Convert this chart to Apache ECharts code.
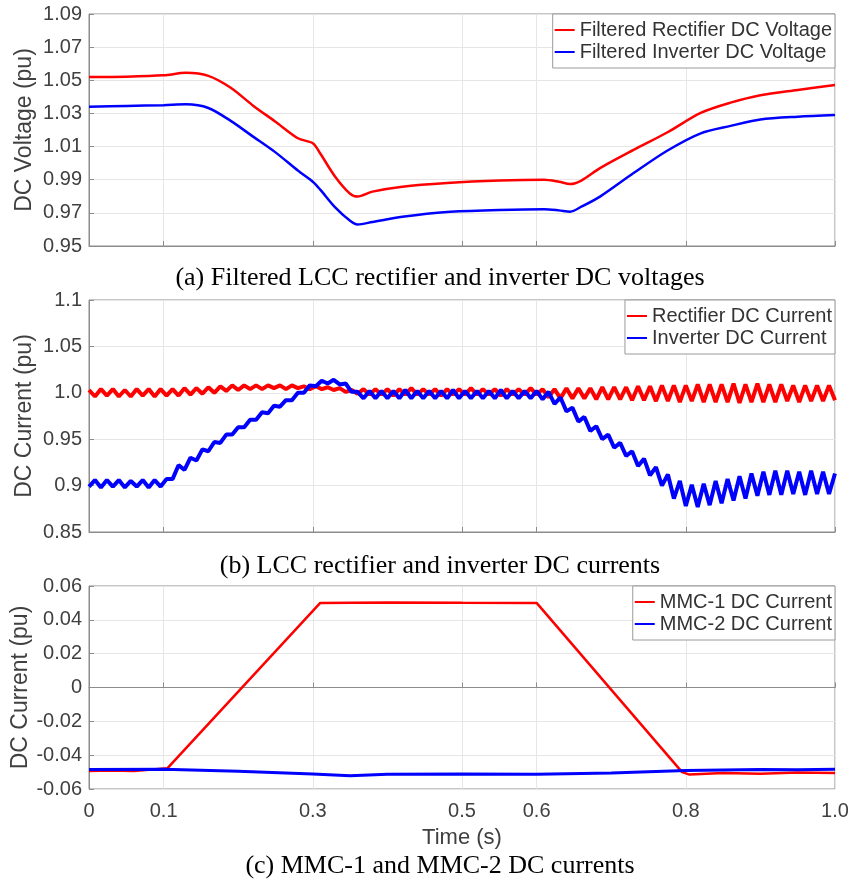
<!DOCTYPE html>
<html>
<head>
<meta charset="utf-8">
<script src="https://cdn.jsdelivr.net/npm/echarts@6/dist/echarts.min.js"></script>
<style>html,body{margin:0;padding:0;background:#fff}#chart{width:848px;height:886px}</style>
</head>
<body>
<div id="chart"></div>
<script>
// shared time axis ticks
const xTicks = [0, 0.1, 0.3, 0.5, 0.6, 0.8, 1.0]
const xTickLabels = ['0', '0.1', '0.3', '0.5', '0.6', '0.8', '1.0']

// (a) filtered DC voltages
const yTicksA = [0.95, 0.97, 0.99, 1.01, 1.03, 1.05, 1.07, 1.09]
const yLabelsA = ['0.95', '0.97', '0.99', '1.01', '1.03', '1.05', '1.07', '1.09']
const tA = [0, 0.05, 0.1, 0.13, 0.16, 0.19, 0.22, 0.25, 0.28, 0.30, 0.31, 0.33, 0.35, 0.36, 0.38, 0.42, 0.48, 0.55, 0.61, 0.63, 0.645, 0.66, 0.685, 0.73, 0.775, 0.82, 0.86, 0.9, 0.95, 1.0]
const rectVoltA = [1.0520, 1.0522, 1.0530, 1.0545, 1.0527, 1.0455, 1.0347, 1.0250, 1.0150, 1.0120, 1.0058, 0.9918, 0.9815, 0.9798, 0.9828, 0.9858, 0.9880, 0.9895, 0.9900, 0.9888, 0.9874, 0.9895, 0.9970, 1.0080, 1.0185, 1.0303, 1.0365, 1.0410, 1.0442, 1.0472]
const invVoltA = [1.0340, 1.0345, 1.0350, 1.0355, 1.0333, 1.0255, 1.0160, 1.0065, 0.9955, 0.9888, 0.9840, 0.9733, 0.9652, 0.9630, 0.9645, 0.9676, 0.9705, 0.9717, 0.9722, 0.9715, 0.9707, 0.9737, 0.9798, 0.9940, 1.0075, 1.0180, 1.0225, 1.0263, 1.0280, 1.0290]

// (b) DC currents, sampled every 8 ms (peaks / troughs of the ripple)
const yTicksB = [0.85, 0.9, 0.95, 1.0, 1.05, 1.1]
const yLabelsB = ['0.85', '0.9', '0.95', '1.0', '1.05', '1.1']
const sampleStepB = 0.008
const rectCurB = [
  1.003, 0.996, 1.004, 0.997, 1.004, 0.996, 1.003, 0.996, 1.004, 0.997, 1.004, 0.996, 1.004, 0.997, 1.004, 0.997, 1.005, 0.998,
  1.005, 0.999, 1.006, 1.000, 1.007, 1.002, 1.008, 1.003,
  1.008, 1.004, 1.008, 1.004, 1.008, 1.005, 1.008, 1.004, 1.008, 1.005, 1.007, 1.004, 1.007, 1.004,
  1.006, 1.003, 1.005, 1.001, 1.003, 0.999,
  1.004, 0.998, 1.004, 0.998, 1.004, 0.997, 1.004, 0.998, 1.005, 0.998, 1.004, 0.998, 1.004, 0.997, 1.004, 0.998,
  1.004, 0.998, 1.005, 0.998, 1.004, 0.998, 1.004, 0.997, 1.004, 0.998, 1.004, 0.998, 1.005, 0.998,
  1.004, 0.995, 1.004, 0.994, 1.005, 0.994, 1.005, 0.994, 1.005, 0.993, 1.006, 0.993, 1.006, 0.993, 1.006, 0.992, 1.007, 0.992,
  1.007, 0.991, 1.008, 0.991, 1.008, 0.990, 1.008, 0.991, 1.009, 0.990, 1.009, 0.990, 1.009, 0.990, 1.010, 0.989,
  1.009, 0.990, 1.010, 0.990, 1.009, 0.990, 1.009, 0.991, 1.008, 0.990, 1.008, 0.991, 1.008, 0.991, 1.008, 0.992
]
const invCurB = [
  0.899, 0.906, 0.898, 0.906, 0.899, 0.906, 0.898, 0.905, 0.899, 0.906, 0.898, 0.906, 0.899, 0.907,
  0.907, 0.922, 0.917, 0.930, 0.927, 0.939, 0.937, 0.947, 0.946, 0.955, 0.955, 0.963, 0.963, 0.971, 0.971, 0.979,
  0.978, 0.986, 0.985, 0.992, 0.992, 1.000, 1.000, 1.008, 1.007, 1.013, 1.010, 1.014, 1.009, 1.010, 1.001, 1.001,
  0.994, 1.002, 0.994, 1.002, 0.994, 1.002, 0.994, 1.003, 0.994, 1.002, 0.994, 1.002, 0.994, 1.002, 0.994, 1.003,
  0.994, 1.002, 0.994, 1.002, 0.994, 1.002, 0.994, 1.003, 0.994, 1.002, 0.994, 1.002, 0.994, 1.002, 0.993,
  1.001, 0.988, 0.995, 0.980, 0.984, 0.969, 0.974, 0.959, 0.964, 0.950, 0.955, 0.941, 0.946, 0.932, 0.937, 0.921,
  0.929, 0.911, 0.920, 0.900, 0.912, 0.886, 0.905, 0.878, 0.901, 0.877, 0.902, 0.879, 0.905, 0.881, 0.907, 0.884,
  0.910, 0.886, 0.913, 0.889, 0.915, 0.890, 0.916, 0.890, 0.916, 0.891, 0.915, 0.890, 0.916, 0.891, 0.915, 0.891, 0.913
]

// (c) MMC DC currents
const yTicksC = [-0.06, -0.04, -0.02, 0, 0.02, 0.04, 0.06]
const yLabelsC = ['-0.06', '-0.04', '-0.02', '0', '0.02', '0.04', '0.06']
const tMmc1 = [0, 0.03, 0.06, 0.105, 0.31, 0.4, 0.5, 0.6, 0.795, 0.805, 0.85, 0.9, 0.95, 1.0]
const mmc1Cur = [-0.0493, -0.0491, -0.0494, -0.0478, 0.0500, 0.0503, 0.0501, 0.0500, -0.0500, -0.0515, -0.0505, -0.0510, -0.0503, -0.0505]
const tMmc2 = [0, 0.1, 0.2, 0.3, 0.35, 0.4, 0.5, 0.6, 0.7, 0.8, 0.85, 0.9, 0.95, 1.0]
const mmc2Cur = [-0.0485, -0.0483, -0.0495, -0.0512, -0.0522, -0.0513, -0.0512, -0.0513, -0.0505, -0.0490, -0.0487, -0.0484, -0.0486, -0.0483]

const RED = '#ff0000'
const BLUE = '#0000ff'
const TXT = '#404040'
const SANS = 'Liberation Sans'

const pairs = (ts, vs) => vs.map((v, i) => [ts[i], v])
const sampled = (step, vs) => vs.map((v, i) => [i * step, v])
const labelFor = (ticks, labels) => v => {
  let best = 0
  ticks.forEach((t, i) => { if (Math.abs(t - v) < Math.abs(ticks[best] - v)) best = i })
  return labels[best]
}

const gridTops = [14, 300, 586]
const gridHeights = [232, 232, 203]

const xAxisFor = (idx) => ({
  gridIndex: idx, type: 'value', min: 0, max: 1,
  axisLine: { show: true, lineStyle: { color: '#8c8c8c' } },
  axisTick: { show: true, inside: true, length: 5, customValues: xTicks, lineStyle: { color: '#8c8c8c' } },
  axisLabel: idx === 2
    ? { show: true, customValues: xTicks, formatter: labelFor(xTicks, xTickLabels), fontSize: 20, fontFamily: SANS, color: TXT, margin: 12 }
    : { show: false },
  splitLine: { show: true, lineStyle: { color: '#e6e6e6' } },
  name: idx === 2 ? 'Time (s)' : '',
  nameLocation: 'middle', nameGap: 38,
  nameTextStyle: { fontSize: 22, fontFamily: SANS, color: TXT }
})

const yAxisFor = (idx, ticks, labels, name, gap) => ({
  gridIndex: idx, type: 'value', min: ticks[0], max: ticks[ticks.length - 1],
  name, nameLocation: 'middle', nameGap: gap, nameMoveOverlap: false,
  nameTextStyle: { fontSize: 23, fontFamily: SANS, color: TXT },
  axisLine: { show: true, lineStyle: { color: '#8c8c8c' } },
  axisTick: { show: true, inside: true, length: 5, customValues: ticks, lineStyle: { color: '#8c8c8c' } },
  axisLabel: { customValues: ticks, formatter: labelFor(ticks, labels), fontSize: 20, fontFamily: SANS, color: TXT, margin: 7 },
  splitLine: { show: true, lineStyle: { color: '#e6e6e6' } }
})

const legendFor = (idx, names) => ({
  top: gridTops[idx], right: 13, orient: 'vertical', selectedMode: false,
  data: names, icon: 'rect', itemWidth: 20, itemHeight: 2, itemGap: 2,
  padding: [6, 3, 6, 2],
  backgroundColor: '#fff', borderColor: '#9a9a9a', borderWidth: 1, borderRadius: 0,
  textStyle: { fontSize: 20, fontFamily: SANS, color: '#333' }
})

const line = (name, idx, color, data, width, smooth) => ({
  name, type: 'line', xAxisIndex: idx, yAxisIndex: idx, data,
  showSymbol: false, smooth: smooth || false, color,
  lineStyle: { color, width }, z: 3
})

const caption = (text, y) => ({
  type: 'text', x: 440, y,
  style: { text, fontSize: 26, fontFamily: 'Liberation Serif', fill: '#000', align: 'center', verticalAlign: 'middle' }
})

const chart = echarts.init(document.getElementById('chart'))
chart.setOption({
  backgroundColor: '#fff',
  animation: false,
  grid: gridTops.map((top, i) => ({
    left: 89, right: 13, top, height: gridHeights[i],
    outerBoundsMode: 'none', containLabel: false,
    show: true, borderColor: '#8c8c8c', borderWidth: 1, backgroundColor: 'transparent'
  })),
  xAxis: [xAxisFor(0), xAxisFor(1), xAxisFor(2)],
  yAxis: [
    yAxisFor(0, yTicksA, yLabelsA, 'DC Voltage (pu)', 53),
    yAxisFor(1, yTicksB, yLabelsB, 'DC Current (pu)', 53),
    yAxisFor(2, yTicksC, yLabelsC, 'DC Current (pu)', 57)
  ],
  legend: [
    legendFor(0, ['Filtered Rectifier DC Voltage', 'Filtered Inverter DC Voltage']),
    legendFor(1, ['Rectifier DC Current', 'Inverter DC Current']),
    legendFor(2, ['MMC-1 DC Current', 'MMC-2 DC Current'])
  ],
  graphic: [
    caption('(a) Filtered LCC rectifier and inverter DC voltages', 278),
    caption('(b) LCC rectifier and inverter DC currents', 566),
    caption('(c) MMC-1 and MMC-2 DC currents', 866)
  ],
  series: [
    line('Filtered Rectifier DC Voltage', 0, RED, pairs(tA, rectVoltA), 2.5, 0.3),
    line('Filtered Inverter DC Voltage', 0, BLUE, pairs(tA, invVoltA), 2.5, 0.3),
    line('Rectifier DC Current', 1, RED, sampled(sampleStepB, rectCurB), 4),
    line('Inverter DC Current', 1, BLUE, sampled(sampleStepB, invCurB), 4),
    line('MMC-1 DC Current', 2, RED, pairs(tMmc1, mmc1Cur), 2.5),
    line('MMC-2 DC Current', 2, BLUE, pairs(tMmc2, mmc2Cur), 3)
  ]
})
</script>
</body>
</html>
